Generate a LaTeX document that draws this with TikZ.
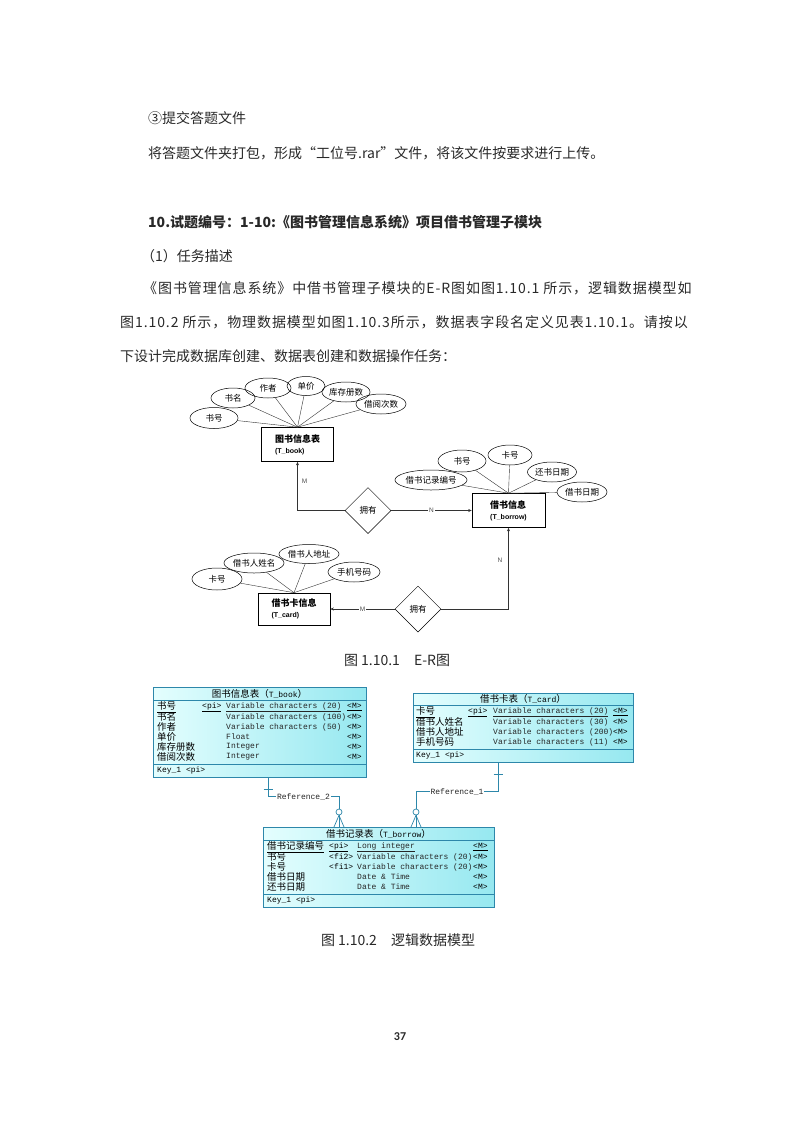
\documentclass[tikz,border=0pt]{standalone}
\usepackage{fontspec}
\usepackage{tikz}
\newfontfamily\cjk{Noto Sans CJK SC}
\newfontfamily\erlat{Liberation Sans}
\newfontfamily\tabmonofam{Liberation Mono}
\newfontfamily\pgnum{Carlito}
\definecolor{txt}{RGB}{40, 40, 40}
\definecolor{tcl}{RGB}{228, 254, 254}
\definecolor{tcd}{RGB}{150, 232, 240}
\definecolor{tline}{RGB}{45, 135, 170}
\newcommand{\bodyfont}{\cjk\fontsize{14}{16}\selectfont}
\newcommand{\erfont}{\cjk\fontsize{8.5}{9}\selectfont}
\newcommand{\entfont}{\cjk\bfseries\fontsize{9}{11}\selectfont}
\newcommand{\tabmono}{\tabmonofam\fontsize{8}{9}\selectfont}
\newcommand{\tabcjk}{\cjk\fontsize{9.5}{10}\selectfont}
\usetikzlibrary{shapes.geometric}
\usetikzlibrary{arrows.meta}

\begin{document}
\begin{tikzpicture}[every node/.style={inner sep=0pt},
  body/.style={anchor=west, font=\bodyfont, text=txt},
  wide/.style={font=\bodyfont\addfontfeatures{LetterSpace=6.5}},
  attr/.style={ellipse, draw, line width=0.5pt, minimum height=20pt, font=\erfont},
  ent/.style={draw, line width=0.6pt, minimum width=72pt, minimum height=34pt, align=left, font=\entfont},
  rel/.style={diamond, draw, line width=0.5pt, minimum width=46pt, minimum height=46pt, font=\erfont},
  erline/.style={line width=0.4pt, color=black!80},
  erarrow/.style={line width=0.5pt, color=black!80, -{Stealth[length=3.5pt, width=3pt]}},
  card/.style={font=\erlat\fontsize{6.5}{7}\selectfont, text=black!70, inner sep=1pt},
  pdtab/.style={draw=tline, line width=0.8pt, left color=tcl, right color=tcd, anchor=north west},
  pdline/.style={line width=0.7pt, color=tline},
  pdring/.style={circle, draw=tline, line width=0.7pt, minimum size=6pt, fill=white},
  tabname/.style={anchor=west, font=\tabcjk, text=black},
  tabtype/.style={anchor=west, font=\tabmono, text=black!85},
  refl/.style={font=\tabmono, fill=white, inner sep=1pt, text=black!85}]
\useasboundingbox (0pt,0pt) rectangle (793pt,-1122pt);

% page text
\node (t1) [body] at (148pt, -118pt) {③提交答题文件};
\node (t2) [body] at (148pt, -153pt) {将答题文件夹打包，形成“工位号.rar”文件，将该文件按要求进行上传。};
\node (t3) [body, font=\bodyfont\bfseries] at (148pt, -222pt) {10.试题编号：1-10:《图书管理信息系统》项目借书管理子模块};
\node (t4) [body] at (141pt, -256pt) {（1）任务描述};
\node (t5) [body, wide] at (143pt, -288pt) {《图书管理信息系统》中借书管理子模块的E-R图如图1.10.1 所示，逻辑数据模型如};
\node (t6) [body, wide] at (120pt, -322pt) {图1.10.2 所示，物理数据模型如图1.10.3所示，数据表字段名定义见表1.10.1。请按以};
\node (t7) [body] at (120pt, -356pt) {下设计完成数据库创建、数据表创建和数据操作任务：};

% E-R diagram
\node (book) [ent] at (297.5pt, -444.5pt) {图书信息表\\{\erlat\bfseries\fontsize{7}{8}\selectfont (T\_book)}};
\node (borrow) [ent, minimum width=73pt] at (508.5pt, -510.5pt) {借书信息\\{\erlat\bfseries\fontsize{7}{8}\selectfont (T\_borrow)}};
\node (cardent) [ent, minimum height=32pt] at (294pt, -609pt) {借书卡信息\\{\erlat\bfseries\fontsize{7}{8}\selectfont (T\_card)}};
\node (own1) [rel] at (368pt, -510.5pt) {拥有};
\node (own2) [rel] at (418pt, -609pt) {拥有};

\node (b1) [attr, minimum width=48pt, minimum height=21pt] at (214pt, -418pt) {书号};
\node (b2) [attr, minimum width=44pt] at (233pt, -398pt) {书名};
\node (b3) [attr, minimum width=46pt] at (268pt, -388pt) {作者};
\node (b4) [attr, minimum width=38pt, minimum height=19pt] at (306pt, -386pt) {单价};
\node (b5) [attr, minimum width=48pt] at (346pt, -392pt) {库存册数};
\node (b6) [attr, minimum width=50pt] at (381pt, -404pt) {借阅次数};
\foreach \a in {b1,b2,b3,b4,b5,b6}
  \draw [erline] (\a) -- (book.north);

\node (w1) [attr, minimum width=62pt] at (431pt, -480pt) {借书记录编号};
\node (w2) [attr, minimum width=48pt, minimum height=22pt] at (462pt, -461pt) {书号};
\node (w3) [attr, minimum width=44pt] at (510pt, -455pt) {卡号};
\node (w4) [attr, minimum width=49pt] at (552pt, -472pt) {还书日期};
\node (w5) [attr, minimum width=50pt] at (582pt, -492pt) {借书日期};
\foreach \a in {w1,w2,w3,w4,w5}
  \draw [erline] (\a) -- (borrow.north);

\node (c1) [attr, minimum width=50pt, minimum height=22pt] at (217pt, -579pt) {卡号};
\node (c2) [attr, minimum width=56pt] at (254pt, -563pt) {借书人姓名};
\node (c3) [attr, minimum width=56pt, minimum height=19pt] at (309pt, -554pt) {借书人地址};
\node (c4) [attr, minimum width=52pt] at (354pt, -572pt) {手机号码};
\foreach \a in {c1,c2,c3,c4}
  \draw [erline] (\a) -- (cardent.north);

\draw [erarrow] (own1.west) -| node [card, pos=0.8, anchor=west, xshift=3pt] {M} (book.south);
\draw [erarrow] (own1.east) -- node [card, fill=white] {N} (borrow.west);
\draw [erarrow] (own2.west) -- node [card, fill=white] {M} (cardent.east);
\draw [erarrow] (own2.east) -| node [card, pos=0.8, anchor=east, xshift=-5pt] {N} (borrow.south);

\node (cap1) [font=\bodyfont, text=txt] at (397pt, -660pt) {图 1.10.1\quad E-R图};

% logical data model
\node (tbook) [pdtab, minimum width=213pt, minimum height=90pt] at (153pt, -687pt) {};
\node (tcard) [pdtab, minimum width=220pt, minimum height=69pt] at (413pt, -693pt) {};
\node (tborrow) [pdtab, minimum width=231pt, minimum height=80pt] at (263pt, -827pt) {};
\draw [pdline] ([yshift=-13pt]tbook.north west) -- ([yshift=-13pt]tbook.north east);
\draw [pdline] ([yshift=13pt]tbook.south west) -- ([yshift=13pt]tbook.south east);
\draw [pdline] ([yshift=-12pt]tcard.north west) -- ([yshift=-12pt]tcard.north east);
\draw [pdline] ([yshift=13pt]tcard.south west) -- ([yshift=13pt]tcard.south east);
\draw [pdline] ([yshift=-13pt]tborrow.north west) -- ([yshift=-13pt]tborrow.north east);
\draw [pdline] ([yshift=13pt]tborrow.south west) -- ([yshift=13pt]tborrow.south east);

% T_book
\node (tbookh) [font=\tabcjk] at (259.5pt, -693.5pt) {图书信息表（{\tabmono T\_book}）};
\node (tbn0) [tabname] at (157pt, -707pt) {\underline{书号}};
\node (tbf0) [tabtype, text=black] at (202pt, -707pt) {\underline{<pi>}};
\node (tbt0) [tabtype] at (226pt, -707pt) {\underline{Variable characters (20)}};
\node (tbm0) [tabtype, text=black] at (347pt, -707pt) {\underline{<M>}};
\foreach \nm/\ty [count=\i] in {书名/Variable characters (100), 作者/Variable characters (50), 单价/Float, 库存册数/Integer, 借阅次数/Integer} {
  \node (tbn\i) [tabname] at (157pt, {-707pt-10pt*\i}) {\nm};
  \node (tbt\i) [tabtype] at (226pt, {-707pt-10pt*\i}) {\ty};
  \node (tbm\i) [tabtype, text=black] at (347pt, {-707pt-10pt*\i}) {<M>};
}
\node (tbk) [tabtype, text=black] at (157pt, -770.5pt) {Key\_1 <pi>};

% T_card
\node (tcardh) [font=\tabcjk] at (523pt, -699pt) {借书卡表（{\tabmono T\_card}）};
\node (tcn0) [tabname] at (416pt, -712pt) {\underline{卡号}};
\node (tcf0) [tabtype, text=black] at (468pt, -712pt) {\underline{<pi>}};
\node (tct0) [tabtype] at (493pt, -712pt) {\underline{Variable characters (20)}};
\node (tcm0) [tabtype, text=black] at (613pt, -712pt) {\underline{<M>}};
\foreach \nm/\ty [count=\i] in {借书人姓名/Variable characters (30), 借书人地址/Variable characters (200), 手机号码/Variable characters (11)} {
  \node (tcn\i) [tabname] at (416pt, {-712pt-10pt*\i}) {\nm};
  \node (tct\i) [tabtype] at (493pt, {-712pt-10pt*\i}) {\ty};
  \node (tcm\i) [tabtype, text=black] at (613pt, {-712pt-10pt*\i}) {<M>};
}
\node (tck) [tabtype, text=black] at (416pt, -755.5pt) {Key\_1 <pi>};

% T_borrow
\node (tborrowh) [font=\tabcjk] at (378.5pt, -833.5pt) {借书记录表（{\tabmono T\_borrow}）};
\node (trn0) [tabname] at (267pt, -847pt) {\underline{借书记录编号}};
\node (trf0) [tabtype, text=black] at (329pt, -847pt) {\underline{<pi>}};
\node (trt0) [tabtype] at (357pt, -847pt) {\underline{Long integer}};
\node (trm0) [tabtype, text=black] at (473pt, -847pt) {\underline{<M>}};
\foreach \nm/\fl/\ty [count=\i] in {书号/<fi2>/Variable characters (20), 卡号/<fi1>/Variable characters (20), 借书日期//Date \& Time, 还书日期//Date \& Time} {
  \node (trn\i) [tabname] at (267pt, {-847pt-10pt*\i}) {\nm};
  \node (trf\i) [tabtype, text=black] at (329pt, {-847pt-10pt*\i}) {\fl};
  \node (trt\i) [tabtype] at (357pt, {-847pt-10pt*\i}) {\ty};
  \node (trm\i) [tabtype, text=black] at (473pt, {-847pt-10pt*\i}) {<M>};
}
\node (trk) [tabtype, text=black] at (267pt, -900.5pt) {Key\_1 <pi>};

% references
\node (ring2) [pdring] at ([xshift=76pt, yshift=15pt]tborrow.north west) {};
\node (ring1) [pdring] at ([xshift=153pt, yshift=15pt]tborrow.north west) {};
\coordinate (r2a) at ([xshift=115pt]tbook.south west);
\coordinate (r1a) at ([xshift=85pt]tcard.south west);
\draw [pdline] (r2a) -- ++(0pt, -19pt) -| node [refl, pos=0.25] {Reference\_2} (ring2.north);
\draw [pdline] (r1a) -- ++(0pt, -29pt) -| node [refl, pos=0.25] {Reference\_1} (ring1.north);
\draw [pdline] ([xshift=-4.5pt, yshift=-12pt]r2a) -- ([xshift=4.5pt, yshift=-12pt]r2a);
\draw [pdline] ([xshift=-4.5pt, yshift=-12pt]r1a) -- ([xshift=4.5pt, yshift=-12pt]r1a);
\draw [pdline] (ring2.south) -- ([xshift=76pt]tborrow.north west);
\draw [pdline] (ring2.south) -- ([xshift=71pt]tborrow.north west);
\draw [pdline] (ring2.south) -- ([xshift=81pt]tborrow.north west);
\draw [pdline] (ring1.south) -- ([xshift=153pt]tborrow.north west);
\draw [pdline] (ring1.south) -- ([xshift=148pt]tborrow.north west);
\draw [pdline] (ring1.south) -- ([xshift=158pt]tborrow.north west);

\node (cap2) [font=\bodyfont, text=txt] at (398pt, -940pt) {图 1.10.2\quad 逻辑数据模型};
\node (pgno) [font=\pgnum\bfseries\fontsize{12}{12}\selectfont, text=txt] at (400pt, -1037pt) {37};
\end{tikzpicture}
\end{document}
